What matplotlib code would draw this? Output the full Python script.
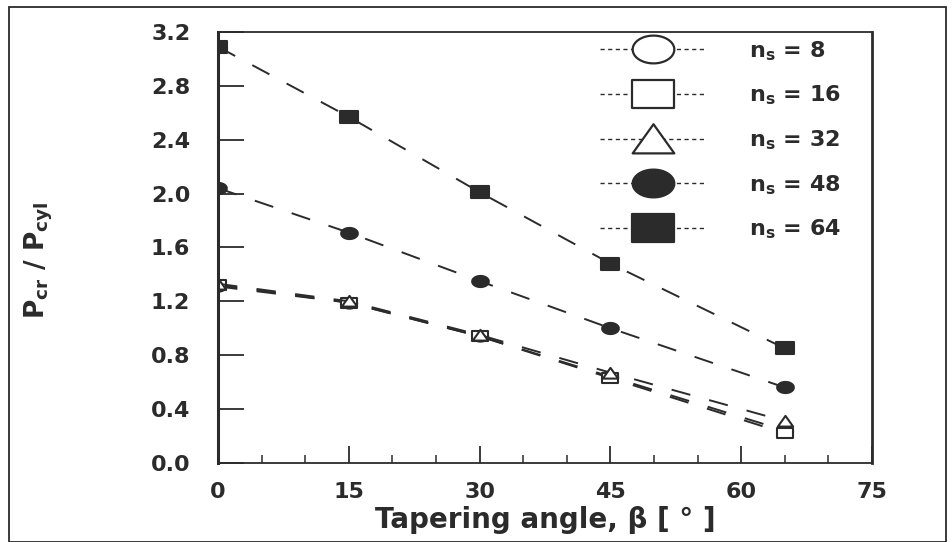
import numpy as np
import matplotlib
matplotlib.use("Agg")
import matplotlib.pyplot as plt
from matplotlib.path import Path
from matplotlib.lines import Line2D
from matplotlib.ticker import MultipleLocator, FormatStrFormatter

plt.rcParams['font.family'] = ['DejaVu Sans']
plt.rcParams['mathtext.fontset'] = 'custom'
plt.rcParams['mathtext.rm'] = 'DejaVu Sans:bold'
plt.rcParams['mathtext.it'] = 'DejaVu Sans:bold'
plt.rcParams['mathtext.bf'] = 'DejaVu Sans:bold'

# data
angles = [0, 15, 30, 45, 65]
ns_labels = ['8', '16', '32', '48', '64']
ratio_n8 = [1.31, 1.19, 0.94, 0.64, 0.24]
ratio_n16 = [1.32, 1.19, 0.94, 0.63, 0.22]
ratio_n32 = [1.33, 1.20, 0.95, 0.67, 0.31]
ratio_n48 = [2.04, 1.71, 1.35, 1.00, 0.56]
ratio_n64 = [3.09, 2.57, 2.01, 1.48, 0.85]

ink = '#2b2b2b'

# the scan is stretched sideways, so markers are wider than tall
t = np.linspace(0, 2 * np.pi, 60)
wide_circle = Path(np.column_stack([1.5 * np.cos(t), np.sin(t)]))
wide_square = Path([(-1.5, -1), (1.5, -1), (1.5, 1), (-1.5, 1), (-1.5, -1)], closed=True)
wide_tri = Path([(-1.5, -1), (1.5, -1), (0, 1.1), (-1.5, -1)], closed=True)

series = [
    (ratio_n8, wide_circle, 'white', 11),
    (ratio_n16, wide_square, 'white', 11),
    (ratio_n32, wide_tri, 'white', 11),
    (ratio_n48, wide_circle, ink, 12),
    (ratio_n64, wide_square, ink, 13),
]

fig = plt.figure(figsize=(9.52, 5.42), dpi=100)
ax = fig.add_axes([0.229, 0.146, 0.687, 0.795])

for vals, mk, fc, ms in series:
    ax.plot(angles, vals, color=ink, lw=1.4, dashes=(10, 10),
            marker=mk, markersize=ms, markerfacecolor=fc,
            markeredgecolor=ink, markeredgewidth=1.5)

ax.set_xlim(0, 75)
ax.set_ylim(0, 3.2)
ax.xaxis.set_major_locator(MultipleLocator(15))
ax.xaxis.set_minor_locator(MultipleLocator(5))
ax.yaxis.set_major_locator(MultipleLocator(0.4))
ax.yaxis.set_major_formatter(FormatStrFormatter('%.1f'))
ax.tick_params(axis='x', which='major', direction='in', length=12, width=1.3,
               color=ink, labelsize=16, pad=14, top=False)
ax.tick_params(axis='x', which='minor', direction='in', length=6, width=1.1,
               color=ink, top=False)
ax.tick_params(axis='y', which='major', direction='in', length=19, width=1.3,
               color=ink, labelsize=16, pad=20, right=False)
for lab in ax.get_xticklabels() + ax.get_yticklabels():
    lab.set_fontweight('bold')
    lab.set_color(ink)
for side in ['left', 'bottom', 'top', 'right']:
    ax.spines[side].set_color(ink)
ax.spines['left'].set_linewidth(2.2)
ax.spines['right'].set_linewidth(2.0)
ax.spines['bottom'].set_linewidth(1.3)
ax.spines['top'].set_linewidth(1.3)

ax.set_xlabel(u'Tapering angle, \u03b2 [ \u00b0 ]', fontsize=20,
              fontweight='bold', color=ink, labelpad=3)
ax.set_ylabel(r'P$_{\rm cr}$ / P$_{\rm cyl}$', fontsize=19, color=ink,
              fontweight='bold')
ax.yaxis.set_label_coords(-0.25, 0.47)

handles = []
for vals, mk, fc, ms in series:
    handles.append(Line2D([0], [0], color=ink, lw=1.0, dashes=(3, 2.5),
                          marker=mk, markersize=30, markerfacecolor=fc,
                          markeredgecolor=ink, markeredgewidth=1.6))
leg = ax.legend(handles, [r'n$_{\rm s}$ = ' + s for s in ns_labels],
                loc='upper right', bbox_to_anchor=(0.976, 1.02), frameon=False,
                fontsize=16, handlelength=4.8, handletextpad=1.9,
                labelspacing=0.95, borderaxespad=0.3)
for txt in leg.get_texts():
    txt.set_color(ink)
    txt.set_fontweight('bold')

# outer frame of the scanned page
fig.add_artist(plt.Rectangle((0.009, 0.0), 0.985, 0.987, transform=fig.transFigure,
                             fill=False, edgecolor=ink, lw=1.3))

fig.savefig('out.png', dpi=100)
